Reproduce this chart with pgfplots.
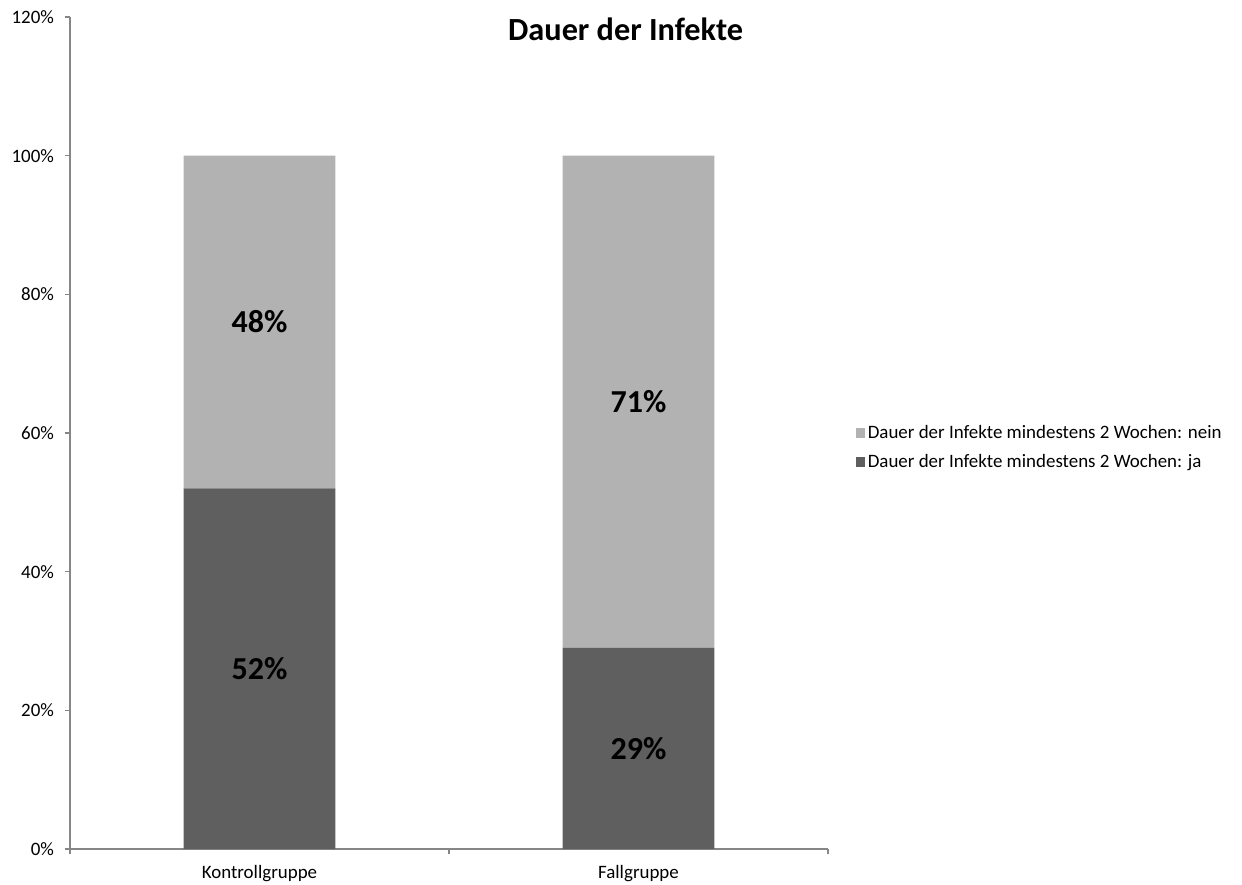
\documentclass[border=0pt]{standalone}
\usepackage{pgfplots}
\pgfplotsset{compat=1.18}
\usepackage{fontspec}
\setmainfont{Carlito}

\definecolor{ja}{HTML}{5F5F5F}
\definecolor{nein}{HTML}{B2B2B2}
\definecolor{axgray}{HTML}{868686}

\pgfplotsset{
  common/.style={
    scale only axis, width=568.5pt, height=624pt,
    xmin=-0.5, xmax=1.5, ymin=0, ymax=120,
    at={(0,0)}, anchor=south west,
  },
}

\begin{document}
\begin{tikzpicture}
% page = 1242x885 px, 1 px = 0.75pt
\useasboundingbox (-52.5pt,-27pt) rectangle (879pt,636.75pt);

\begin{axis}[common,
    ybar stacked, bar width=0.4,
    axis lines*=left,
    axis line style={draw=axgray, line width=0.9pt, -},
    xtick={-0.5,0.5,1.5}, x tick label as interval,
    xticklabels={Kontrollgruppe,Fallgruppe},
    ytick={0,20,...,120},
    yticklabels={0\%,20\%,40\%,60\%,80\%,100\%,120\%},
    tick align=outside, major tick length=4pt,
    tick style={draw=axgray, line width=0.9pt},
    tick label style={font=\fontsize{14.2}{17}\selectfont, text=black},
    yticklabel style={xshift=-4.5pt},
    xticklabel style={yshift=-5pt},
    title={Dauer der Infekte},
    title style={font=\fontsize{24.2}{29}\selectfont\bfseries,
        at={(0.733,0.985)}, anchor=center, yshift=-6pt},
    legend style={at={(1.036,0.4826)}, anchor=west, draw=none, inner sep=0pt,
        font=\fontsize{14.2}{17}\selectfont, row sep=6pt},
    legend image code/.code={\fill[#1] (0pt,-3.6pt) rectangle (7.2pt,3.6pt);},
    legend cell align=left,
    reverse legend,
]

% ja
\addplot[fill=ja, draw=none] coordinates {(0,52) (1,29)};
\addlegendentry{Dauer der Infekte mindestens 2 Wochen: ja}

% nein
\addplot[fill=nein, draw=none] coordinates {(0,48) (1,71)};
\addlegendentry{Dauer der Infekte mindestens 2 Wochen: nein}

\end{axis}

% labels in the middle of each segment
\begin{axis}[common, hide axis,
    point meta=explicit symbolic,
    nodes near coords={\pgfplotspointmeta\%},
    every node near coord/.append style={anchor=center, yshift=0pt,
        font=\fontsize{24}{28}\selectfont\bfseries, text=black},
]
\addplot[only marks, mark=none] table[meta=lab] {
x y lab
0 26 52
1 14.5 29
0 76 48
1 64.5 71
};
\end{axis}
\end{tikzpicture}
\end{document}
